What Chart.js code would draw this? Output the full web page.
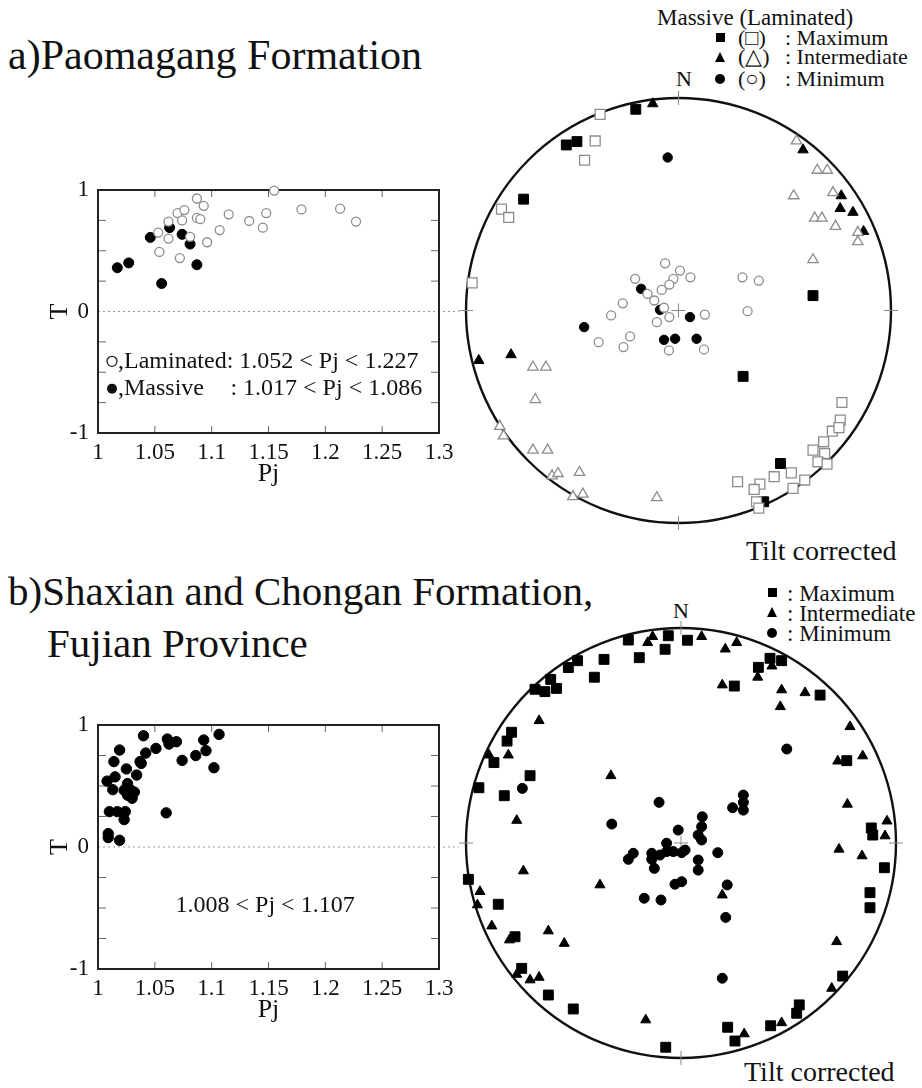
<!DOCTYPE html>
<html>
<head>
<meta charset="utf-8">
<script src="https://cdn.jsdelivr.net/npm/chart.js@4.4.1/dist/chart.umd.min.js"></script>
<style>
  body { margin: 0; width: 922px; height: 1088px; position: relative; overflow: hidden; background: #fff;
         font-family: 'Liberation Serif', 'Times New Roman', serif; color: #111; }
  canvas { position: absolute; }
  .t { position: absolute; white-space: pre; line-height: 1; }
  .sq, .tri, .dot { position: absolute; }
  .sq { width: 9px; height: 9px; background: #000; }
  .dot { width: 10px; height: 10px; border-radius: 50%; background: #000; }
  .tri { width: 0; height: 0; border-left: 5.5px solid transparent; border-right: 5.5px solid transparent; border-bottom: 10px solid #000; }
</style>
</head>
<body>
<div class="t" style="left:8px;top:34px;font-size:42px">a)Paomagang Formation</div>
<div class="t" style="left:8px;top:571px;font-size:41px">b)Shaxian and Chongan Formation,</div>
<div class="t" style="left:47px;top:623px;font-size:41px">Fujian Province</div>

<!-- legend a -->
<div class="t" style="left:657px;top:6px;font-size:23px">Massive (Laminated)</div>
<div class="sq" style="left:716px;top:33px"></div>
<div class="tri" style="left:715px;top:52px"></div>
<div class="dot" style="left:715px;top:74px"></div>
<div class="t" style="left:738px;top:27px;font-size:22px">(□)</div>
<div class="t" style="left:738px;top:46px;font-size:22px">(△)</div>
<div class="t" style="left:738px;top:68px;font-size:22px">(○)</div>
<div class="t" style="left:785px;top:27px;font-size:22px">: Maximum</div>
<div class="t" style="left:785px;top:46px;font-size:22px">: Intermediate</div>
<div class="t" style="left:785px;top:68px;font-size:22px">: Minimum</div>
<div class="t" style="left:676px;top:68px;font-size:22px">N</div>
<div class="t" style="left:746px;top:537px;font-size:28px">Tilt corrected</div>

<!-- legend b -->
<div class="sq" style="left:768px;top:588px"></div>
<div class="tri" style="left:767px;top:607px"></div>
<div class="dot" style="left:767px;top:628px"></div>
<div class="t" style="left:787px;top:582px;font-size:23px">: Maximum</div>
<div class="t" style="left:787px;top:602px;font-size:23px">: Intermediate</div>
<div class="t" style="left:787px;top:622px;font-size:23px">: Minimum</div>
<div class="t" style="left:673px;top:600px;font-size:22px">N</div>
<div class="t" style="left:744px;top:1058px;font-size:28px">Tilt corrected</div>

<canvas id="pjA" width="460" height="340" style="left:0;top:150px"></canvas>
<canvas id="pjB" width="460" height="341" style="left:0;top:685px"></canvas>
<canvas id="netA" width="465" height="465" style="left:446px;top:78px"></canvas>
<canvas id="netB" width="470" height="470" style="left:446px;top:608px"></canvas>

<script>
// Pj - T, Paomagang Formation
const lamPj = [1.155, 1.087, 1.093, 1.070, 1.076, 1.074, 1.087, 1.090, 1.062, 1.053, 1.062, 1.081,
               1.054, 1.072, 1.096, 1.107, 1.115, 1.133, 1.145, 1.148, 1.179, 1.213, 1.227];
const lamT  = [0.995, 0.93, 0.87, 0.81, 0.835, 0.75, 0.77, 0.76, 0.74, 0.65, 0.60, 0.615,
               0.49, 0.44, 0.57, 0.67, 0.80, 0.745, 0.69, 0.81, 0.84, 0.846, 0.74];
const masPj = [1.017, 1.027, 1.046, 1.063, 1.074, 1.081, 1.087, 1.056];
const masT  = [0.36, 0.40, 0.61, 0.69, 0.635, 0.555, 0.385, 0.23];

// Pj - T, Shaxian and Chongan Formation
const fujPj = [1.040, 1.1065, 1.061, 1.0625, 1.069, 1.051, 1.042, 1.093, 1.095, 1.086, 1.074, 1.102,
               1.019, 1.014, 1.037, 1.025, 1.034, 1.015, 1.008, 1.013, 1.026, 1.029, 1.032, 1.026,
               1.030, 1.023, 1.010, 1.017, 1.024, 1.023, 1.060, 1.009, 1.009, 1.019, 1.038];
const fujT  = [0.912, 0.923, 0.885, 0.844, 0.863, 0.808, 0.77, 0.877, 0.79, 0.75, 0.71, 0.65,
               0.795, 0.70, 0.70, 0.64, 0.59, 0.575, 0.54, 0.47, 0.52, 0.465, 0.45, 0.425,
               0.40, 0.465, 0.29, 0.29, 0.29, 0.225, 0.28, 0.11, 0.077, 0.055, 0.685];

const pjTicks = [1, 1.05, 1.1, 1.15, 1.2, 1.25, 1.3];
const tTicks  = [-1, 0, 1];
const tMinor  = [-0.75, -0.5, -0.25, 0.25, 0.5, 0.75];

// stereonet, Paomagang (x = east, y = north, unit = primitive circle)
const lamMax = [[-0.369,0.923],[-0.392,0.798],[-0.442,0.707],[-0.833,0.477],[-0.799,0.438],[-0.971,0.130],
  [0.769,-0.433],[0.761,-0.516],[0.724,-0.568],[0.755,-0.551],[0.683,-0.618],[0.633,-0.657],[0.688,-0.673],
  [0.656,-0.712],[0.699,-0.723],[0.531,-0.764],[0.594,-0.798],[0.450,-0.782],[0.383,-0.817],[0.356,-0.842],
  [0.278,-0.806],[0.539,-0.837],[0.367,-0.900],[0.378,-0.930]];
const lamInt = [[0.555,0.798],[0.653,0.660],[0.700,0.660],[0.542,0.540],[0.727,0.555],[0.641,0.435],
  [0.675,0.435],[0.739,0.396],[0.844,0.368],[0.844,0.324],[0.633,0.239],[-0.685,-0.266],[-0.624,-0.266],
  [-0.674,-0.419],[-0.841,-0.545],[-0.823,-0.590],[-0.685,-0.657],[-0.616,-0.657],[-0.595,-0.778],
  [-0.567,-0.767],[-0.466,-0.762],[-0.497,-0.876],[-0.450,-0.864],[-0.102,-0.881]];
const lamMin = [[-0.063,0.222],[0.007,0.188],[-0.204,0.149],[-0.024,0.149],[-0.043,0.122],[-0.079,0.097],
  [-0.114,0.047],[-0.146,0.078],[-0.262,0.034],[0.056,0.156],[0.301,0.156],[0.378,0.141],[-0.317,-0.023],
  [-0.376,-0.149],[-0.259,-0.172],[-0.228,-0.122],[-0.068,0.013],[-0.102,-0.055],[-0.043,-0.031],
  [-0.045,-0.188],[0.124,-0.019],[0.325,-0.003],[0.120,-0.183]];
const masMax = [[-0.201,0.947],[-0.528,0.779],[-0.478,0.795],[-0.729,0.524],[0.633,0.070],[0.304,-0.310],
  [0.480,-0.720],[0.401,-0.900]];
const masInt = [[-0.121,0.973],[0.586,0.756],[0.766,0.540],[0.761,0.480],[0.821,0.462],[0.871,0.372],
  [-0.940,-0.235],[-0.788,-0.208]];
const masMin = [[-0.051,0.720],[-0.176,0.102],[-0.087,0.003],[-0.444,-0.078],[0.054,-0.031],[-0.068,-0.138],
  [-0.016,-0.133],[0.085,-0.133]];

// stereonet, Fujian
const fujMax = [[-0.245,0.944],[-0.059,0.964],[-0.074,0.901],[0.030,0.943],[-0.194,0.862],[-0.358,0.854],
  [-0.481,0.848],[-0.524,0.816],[-0.403,0.771],[-0.606,0.761],[-0.679,0.715],[-0.633,0.704],[-0.579,0.719],
  [-0.788,0.515],[-0.809,0.474],[-0.870,0.374],[-0.702,0.313],[-0.940,0.257],[-0.822,0.220],[0.360,0.817],
  [0.414,0.859],[0.468,0.848],[0.248,0.730],[0.647,0.688],[0.771,0.383],[0.885,0.070],[-0.989,-0.169],
  [-0.850,-0.285],[-0.772,-0.436],[-0.741,-0.583],[-0.617,-0.707],[-0.501,-0.772],[-0.071,-0.950],
  [0.892,0.037],[0.946,-0.115],[0.879,-0.231],[0.879,-0.301],[0.752,-0.619],[0.550,-0.753],[0.538,-0.792],
  [0.417,-0.850],[0.217,-0.857],[0.251,-0.921]];
const fujInt = [[-0.132,0.960],[-0.155,0.932],[-0.660,0.569],[-0.893,0.409],[-0.803,0.409],[-0.326,0.313],
  [-0.764,0.105],[0.096,0.960],[0.259,0.932],[0.206,0.902],[0.423,0.823],[0.357,0.771],[0.192,0.735],
  [0.468,0.712],[0.577,0.699],[0.462,0.634],[0.786,0.541],[0.729,0.381],[0.845,0.405],[0.774,0.180],
  [0.958,0.102],[-0.733,-0.130],[-0.935,-0.226],[-0.947,-0.288],[-0.880,-0.386],[-0.798,-0.451],
  [-0.617,-0.409],[-0.543,-0.467],[-0.764,-0.611],[-0.702,-0.637],[-0.660,-0.625],[-0.377,-0.195],
  [-0.164,-0.823],[0.192,-0.242],[0.735,-0.029],[0.842,-0.060],[0.949,0.033],[0.724,-0.459],[0.701,-0.676],
  [0.468,-0.836],[0.294,-0.888]];
const fujMin = [[-0.738,0.254],[-0.102,0.189],[-0.322,0.088],[-0.013,0.060],[0.492,0.437],[0.290,0.223],
  [0.290,0.189],[0.240,0.164],[0.290,0.153],[0.099,0.122],[0.096,0.076],[-0.245,-0.076],[-0.222,-0.048],
  [-0.136,-0.048],[-0.136,-0.076],[-0.124,-0.118],[-0.098,-0.056],[-0.067,-0.001],[-0.067,-0.040],
  [-0.036,-0.040],[0.003,-0.045],[0.019,-0.033],[-0.028,-0.192],[0.003,-0.180],[-0.171,-0.257],
  [-0.093,-0.265],[0.080,0.037],[0.096,0.014],[0.080,-0.079],[0.080,-0.126],[0.171,-0.045],[0.215,-0.195],
  [0.208,-0.346],[0.192,-0.629]];

const SERIF = "'Liberation Serif', 'Times New Roman', serif";
const GREY = '#8c8c8c';

function pairs(xs, ys) { return xs.map((x, i) => ({ x: x, y: ys[i] })); }
function pts(list) { return list.map(p => ({ x: p[0], y: p[1] })); }

function openSet(data, style, r) {
  return { data: data, pointStyle: style, pointRadius: r, pointHoverRadius: r,
           backgroundColor: '#fff', borderColor: GREY, borderWidth: 1.3, clip: false };
}
function fullSet(data, style, r) {
  return { data: data, pointStyle: style, pointRadius: r, pointHoverRadius: r,
           backgroundColor: '#000', borderColor: '#000', borderWidth: 1, clip: false };
}

// box, inward ticks, dotted zero line and notes
const frame = {
  id: 'frame',
  beforeDatasetsDraw(chart) {
    const { ctx, chartArea: a, scales: { x, y } } = chart;
    ctx.save();
    ctx.strokeStyle = '#999';
    ctx.lineWidth = 1;
    ctx.setLineDash([2, 3]);
    ctx.beginPath();
    ctx.moveTo(a.left, y.getPixelForValue(0));
    ctx.lineTo(a.right + 20, y.getPixelForValue(0));
    ctx.stroke();
    ctx.setLineDash([]);
    ctx.strokeStyle = '#666';
    ctx.beginPath();
    pjTicks.slice(1, -1).forEach(v => {
      const px = x.getPixelForValue(v);
      ctx.moveTo(px, a.top); ctx.lineTo(px, a.top + 7);
      ctx.moveTo(px, a.bottom); ctx.lineTo(px, a.bottom - 7);
    });
    tMinor.forEach(v => {
      const py = y.getPixelForValue(v);
      ctx.moveTo(a.left, py); ctx.lineTo(a.left + 8, py);
      ctx.moveTo(a.right, py); ctx.lineTo(a.right - 8, py);
    });
    ctx.stroke();
    ctx.strokeStyle = '#222';
    ctx.lineWidth = 2;
    ctx.strokeRect(a.left, a.top, a.right - a.left, a.bottom - a.top);
    ctx.restore();
  },
  afterDraw(chart, args, opts) {
    const { ctx, scales: { x, y } } = chart;
    ctx.save();
    ctx.font = '24px ' + SERIF;
    ctx.fillStyle = '#111';
    ctx.textBaseline = 'middle';
    (opts.notes || []).forEach(n => {
      const px = x.getPixelForValue(n.pj), py = y.getPixelForValue(n.t);
      ctx.textAlign = n.align || 'left';
      if (n.mark) {
        ctx.beginPath();
        ctx.arc(px - 6, py, 5, 0, Math.PI * 2);
        if (n.mark === 'open') { ctx.strokeStyle = '#222'; ctx.lineWidth = 1.3; ctx.stroke(); }
        else { ctx.fill(); }
      }
      ctx.fillText(n.text, px, py);
      if (n.tail) ctx.fillText(n.tail, x.getPixelForValue(n.tailPj), py);
    });
    ctx.restore();
  }
};

function pjChart(id, sets, notes) {
  const font = { family: SERIF, size: 23 };
  return new Chart(document.getElementById(id), {
    type: 'scatter',
    data: { datasets: sets },
    options: {
      responsive: false,
      animation: false,
      layout: { padding: { left: 0, top: 40, right: 21, bottom: 0 } },
      plugins: { legend: { display: false }, tooltip: { enabled: false }, frame: { notes: notes } },
      scales: {
        x: {
          min: 1, max: 1.3,
          afterFit: s => { s.height = 57; },
          afterBuildTicks: s => { s.ticks = pjTicks.map(v => ({ value: v })); },
          grid: { display: false, drawTicks: false }, border: { display: false },
          ticks: { font: font, color: '#111', padding: 6, maxRotation: 0, autoSkip: false,
                   callback: v => String(v) },
          title: { display: true, text: 'Pj', font: { family: SERIF, size: 26 }, color: '#111',
                   padding: { top: 0, bottom: 0 } }
        },
        y: {
          min: -1, max: 1,
          afterFit: s => { s.width = 98; },
          afterBuildTicks: s => { s.ticks = tTicks.map(v => ({ value: v })); },
          grid: { display: false, drawTicks: false }, border: { display: false },
          ticks: { font: font, color: '#111', padding: 9, callback: v => String(v) },
          title: { display: true, text: 'T', font: { family: SERIF, size: 26 }, color: '#111',
                   padding: { top: 45 } }
        }
      }
    },
    plugins: [frame]
  });
}

// primitive circle, N/E/S/W marks and centre cross
const net = {
  id: 'net',
  beforeDatasetsDraw(chart) {
    const { ctx, scales: { x, y } } = chart;
    const cx = x.getPixelForValue(0), cy = y.getPixelForValue(0);
    const r = x.getPixelForValue(1) - cx;
    ctx.save();
    ctx.strokeStyle = '#111';
    ctx.lineWidth = 2.4;
    ctx.beginPath();
    ctx.arc(cx, cy, r, 0, Math.PI * 2);
    ctx.stroke();
    ctx.strokeStyle = '#888';
    ctx.lineWidth = 1;
    ctx.beginPath();
    ctx.moveTo(cx, cy - r - 7); ctx.lineTo(cx, cy - r + 7);
    ctx.moveTo(cx, cy + r - 7); ctx.lineTo(cx, cy + r + 7);
    ctx.moveTo(cx - r - 7, cy); ctx.lineTo(cx - r + 7, cy);
    ctx.moveTo(cx + r - 7, cy); ctx.lineTo(cx + r + 7, cy);
    ctx.moveTo(cx - 7, cy); ctx.lineTo(cx + 7, cy);
    ctx.moveTo(cx, cy - 7); ctx.lineTo(cx, cy + 7);
    ctx.stroke();
    ctx.restore();
  }
};

function netChart(id, sets) {
  return new Chart(document.getElementById(id), {
    type: 'scatter',
    data: { datasets: sets },
    options: {
      responsive: false,
      animation: false,
      layout: { padding: 20 },
      plugins: { legend: { display: false }, tooltip: { enabled: false } },
      scales: { x: { display: false, min: -1, max: 1 }, y: { display: false, min: -1, max: 1 } }
    },
    plugins: [net]
  });
}

pjChart('pjA', [
  openSet(pairs(lamPj, lamT), 'circle', 4.5),
  fullSet(pairs(masPj, masT), 'circle', 5)
], [
  { pj: 1.0176, t: -0.41, text: ',Laminated: 1.052 < Pj < 1.227', mark: 'open' },
  { pj: 1.0176, t: -0.635, text: ',Massive', mark: 'full', tail: ': 1.017 < Pj < 1.086', tailPj: 1.1165 }
]);

pjChart('pjB', [
  fullSet(pairs(fujPj, fujT), 'circle', 5.2)
], [
  { pj: 1.147, t: -0.48, text: '1.008 < Pj < 1.107', align: 'center' }
]);

netChart('netA', [
  openSet(pts(lamMax), 'rect', 7),
  openSet(pts(lamInt), 'triangle', 6),
  openSet(pts(lamMin), 'circle', 4.5),
  fullSet(pts(masMax), 'rect', 7),
  fullSet(pts(masInt), 'triangle', 6),
  fullSet(pts(masMin), 'circle', 4.7)
]);

netChart('netB', [
  fullSet(pts(fujMax), 'rect', 7),
  fullSet(pts(fujInt), 'triangle', 5.8),
  fullSet(pts(fujMin), 'circle', 5)
]);
</script>
</body>
</html>
